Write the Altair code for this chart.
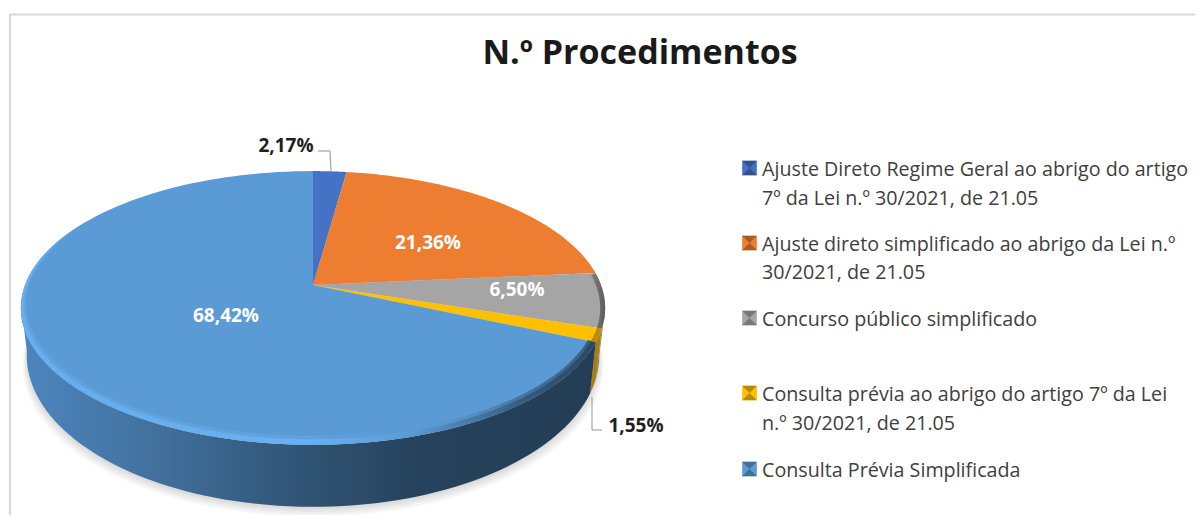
import math
import altair as alt

categorias = [
    "Ajuste Direto Regime Geral ao abrigo do artigo 7º da Lei n.º 30/2021, de 21.05",
    "Ajuste direto simplificado ao abrigo da Lei n.º 30/2021, de 21.05",
    "Concurso público simplificado",
    "Consulta prévia ao abrigo do artigo 7º da Lei n.º 30/2021, de 21.05",
    "Consulta Prévia Simplificada",
]
percentagens = [2.17, 21.36, 6.50, 1.55, 68.42]
cores = ["#4472C4", "#ED7D31", "#A5A5A5", "#FFC000", "#5B9BD5"]
linhas_legenda = [
    ["Ajuste Direto Regime Geral ao abrigo do artigo", "7º da Lei n.º 30/2021, de 21.05"],
    ["Ajuste direto simplificado ao abrigo da Lei n.º", "30/2021, de 21.05"],
    ["Concurso público simplificado"],
    ["Consulta prévia ao abrigo do artigo 7º da Lei", "n.º 30/2021, de 21.05"],
    ["Consulta Prévia Simplificada"],
]

FONT = "Open Sans"
OX, OY = 8, 8           # page margin
AX, AY = 313, 285       # apex in picture pixels
A, B, K = 288.0, 133.0, 0.1675


def rim(t):
    r = math.radians(t)
    u, v = math.sin(r), math.cos(r)
    w = 1 + K * v
    return (A * u / w, B * v / w)


def low(t):
    x, y = rim(t)
    return (x * 0.98, y * 1.107 - 45)


def inset(t, dx, dy):
    x, y = rim(t)
    f = 1.0 if t < 240 else max(0.0, (300 - t) / 60)
    cy = -23
    return (x * (1 - dx * f), cy + (y - cy) * (1 - dy * f))


def inner(t):
    return inset(t, 0.017, 0.04)


def inner2(t):
    return inset(t, 0.028, 0.065)


def arc(fn, a, b, n=80):
    return [list(fn(a + (b - a) * i / n)) for i in range(n + 1)]


def poly(points):
    return {"type": "Polygon", "coordinates": [points + [points[0]]]}


def feature(points, **props):
    return {"type": "Feature", "geometry": poly(points), "properties": props}


PROJ = dict(type="identity", reflectY=True, scale=1, translate=[AX - OX, AY - OY])


def shape(points, **mark):
    return (
        alt.Chart(alt.Data(values=[feature(points)]))
        .mark_geoshape(strokeWidth=0, **mark)
        .project(**PROJ)
    )


def grad(stops):
    return alt.LinearGradient(
        gradient="linear", x1=0, x2=1, y1=0, y2=0,
        stops=[alt.GradientStop(color=c, offset=o) for o, c in stops],
    )


def text(t, x, y, **kw):
    return (
        alt.Chart(alt.Data(values=[{"t": t}]))
        .mark_text(font=FONT, baseline="middle", **kw)
        .encode(text="t:N", x=alt.value(x - OX), y=alt.value(y - OY + 1.5))
    )


def rule(x1, y1, x2, y2, color, w):
    return (
        alt.Chart(alt.Data(values=[{"a": 0}]))
        .mark_rule(color=color, strokeWidth=w)
        .encode(x=alt.value(x1 - OX), x2=alt.value(x2 - OX),
                y=alt.value(y1 - OY), y2=alt.value(y2 - OY))
    )


# slice limits, clockwise from 12 o'clock
lim = [0.0]
for p in percentagens:
    lim.append(lim[-1] + p * 3.6)
lim[-1] = 360.0

layers = []

# frame
layers += [rule(10, 14.5, 1195, 14.5, "#D9D9D9", 2), rule(10, 14, 10, 515, "#D9D9D9", 2)]

# soft shadow
for i in range(6):
    grow = 1 + 0.003 * i
    drop = 2 + 1.6 * i
    pts = [[x * grow, y - drop] for x, y in arc(low, 0, 360, 160)]
    layers.append(shape(pts, fill="#000000", opacity=0.022))

# side walls
wall_start = 99.6
layers.append(shape(arc(rim, wall_start, lim[3]) + arc(low, lim[3], wall_start),
                    fill=grad([(0, "#8A8A8A"), (1, "#5A5A5A")])))
layers.append(shape(arc(rim, lim[3], lim[4]) + arc(low, lim[4], lim[3]), fill="#A67F10"))
layers.append(shape(arc(rim, lim[4], 262) + arc(low, 262, lim[4]),
                    fill=grad([(0, "#4C86BF"), (0.25, "#416F9B"), (0.5, "#2F5373"),
                               (0.7, "#26425C"), (1, "#223D54")])))

# top slices
for i, c in enumerate(categorias):
    pts = [[0.0, 0.0]] + arc(rim, lim[i], lim[i + 1], 120)
    layers.append(
        alt.Chart(alt.Data(values=[feature(pts, categoria=c)]))
        .mark_geoshape(strokeWidth=0)
        .encode(color=alt.Color("properties.categoria:N",
                                scale=alt.Scale(domain=categorias, range=cores), legend=None))
        .project(**PROJ)
    )

# bevel bands, the wider one first so that it reads as a soft edge
layers.append(shape(arc(rim, lim[4], 300) + arc(inner2, 300, lim[4]),
                    fill=grad([(0, "rgba(104,176,240,0.35)"), (0.5, "rgba(104,176,240,0.35)"),
                               (0.68, "rgba(91,155,213,0)"), (0.85, "rgba(42,72,98,0.4)"),
                               (1, "rgba(42,72,98,0.75)")])))
layers.append(shape(arc(rim, lim[4], 300) + arc(inner, 300, lim[4]),
                    fill=grad([(0, "#66AEEE"), (0.5, "#68B0F0"), (0.68, "#5B9BD5"),
                               (0.88, "#35597A"), (1, "#2A4862")])))
layers.append(shape(arc(rim, 85, lim[3]) + arc(inner, lim[3], 85),
                    fill=grad([(0, "#7A7A7A"), (1, "#4F4F4F")]), opacity=0.85))
layers.append(shape(arc(rim, lim[3], lim[4]) + arc(inner, lim[4], lim[3]), fill="#B98C08"))

# leader lines
G = "#A6A6A6"
layers += [rule(318, 151, 330, 151, G, 1.2), rule(330, 151, 331, 171, G, 1.2),
           rule(592, 397, 592, 430, G, 1.2), rule(592, 430, 602, 430, G, 1.2)]

# title
layers.append(text("N.º Procedimentos", 640, 52, fontSize=34, fontWeight="bold",
                   color="#1A1A1A", align="center"))

# data labels
fmt = [f"{p:.2f}".replace(".", ",") + "%" for p in percentagens]
LBL = 19
layers.append(text(fmt[0], 286, 144, fontSize=LBL, fontWeight="bold", color="#1F1F1F", align="center"))
layers.append(text(fmt[1], 428, 241, fontSize=LBL, fontWeight="bold", color="#FFFFFF", align="center"))
layers.append(text(fmt[2], 517, 288, fontSize=LBL, fontWeight="bold", color="#FFFFFF", align="center"))
layers.append(text(fmt[3], 636, 424, fontSize=LBL, fontWeight="bold", color="#1F1F1F", align="center"))
layers.append(text(fmt[4], 226, 314, fontSize=LBL, fontWeight="bold", color="#FFFFFF", align="center"))

# legend
legend_y = [[168, 197], [243, 271], [318], [393, 422], [469]]
for i, linhas in enumerate(linhas_legenda):
    sy = legend_y[i][0]
    layers.append(
        alt.Chart(alt.Data(values=[{"c": categorias[i]}]))
        .mark_point(shape="square", filled=True, size=215, opacity=1)
        .encode(x=alt.value(749.5 - OX), y=alt.value(sy - OY),
                color=alt.Color("c:N", scale=alt.Scale(domain=categorias, range=cores), legend=None))
    )
    layers.append(
        alt.Chart(alt.Data(values=[{"c": categorias[i]}]))
        .mark_point(shape="M-1,-1L1,-1L0,0L1,1L-1,1L0,0Z", filled=True, size=215,
                    opacity=0.28, color="#000000")
        .encode(x=alt.value(749.5 - OX), y=alt.value(sy - OY))
    )
    for linha, y in zip(linhas, legend_y[i]):
        layers.append(text(linha, 762, y, fontSize=19.7, color="#404040", align="left"))

chart = (
    alt.layer(*layers)
    .properties(width=1187, height=507, padding=0, autosize=alt.AutoSizeParams(type="none"),
                background="#FFFFFF")
    .configure_view(stroke=None)
)
chart.save("out.html", embed_options={"renderer": "svg", "actions": False})
